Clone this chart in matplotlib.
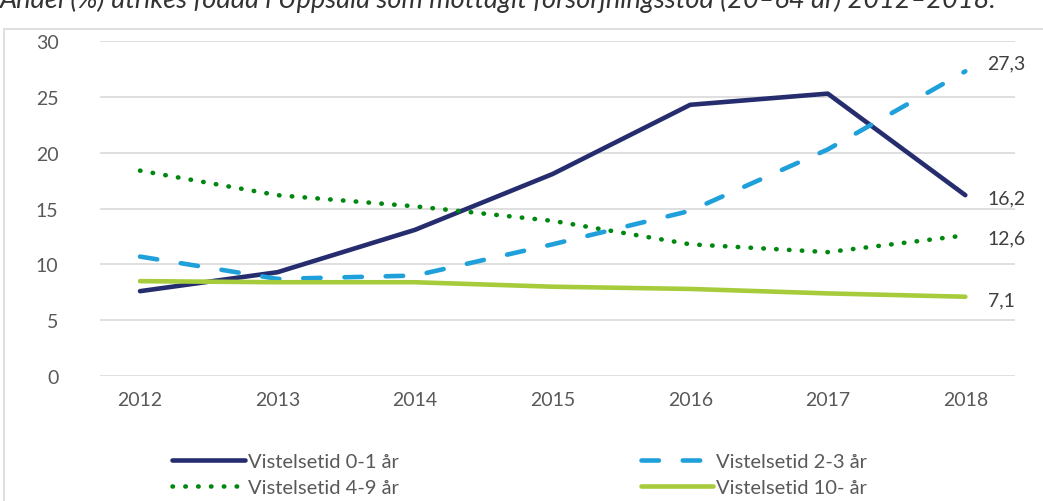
import matplotlib.pyplot as plt
from matplotlib.patches import Rectangle

years = [2012, 2013, 2014, 2015, 2016, 2017, 2018]
v_0_1 = [7.6, 9.3, 13.1, 18.1, 24.3, 25.3, 16.2]
v_2_3 = [10.7, 8.7, 9.0, 11.8, 14.8, 20.3, 27.3]
v_4_9 = [18.4, 16.2, 15.2, 13.9, 11.8, 11.1, 12.6]
v_10 = [8.5, 8.4, 8.4, 8.0, 7.8, 7.4, 7.1]
labels = ["Vistelsetid 0-1 år", "Vistelsetid 2-3 år", "Vistelsetid 4-9 år", "Vistelsetid 10- år"]
end_labels = ["16,2", "27,3", "12,6", "7,1"]
title = "Andel (%) utrikes födda i Uppsala som mottagit försörjningsstöd (20–64 år) 2012–2018."

plt.rcParams['font.family'] = ['Lato', 'DejaVu Sans']
grey = "#595959"

fig = plt.figure(figsize=(10.43, 5.02), dpi=100)
fig.patches.append(Rectangle((0.004, -0.01), 1.1, 0.95, transform=fig.transFigure,
                             fill=False, edgecolor="#d9d9d9", linewidth=1.2))
# title is cut at the top edge in the original
fig.text(0.0, 0.985, title, fontsize=19.5, style='italic', color="#333333", va='baseline')

ax = fig.add_axes([0.096, 0.249, 0.877, 0.667])

l1, = ax.plot(years, v_0_1, color="#262d6e", lw=3.3, solid_capstyle='round')
l2, = ax.plot(years, v_2_3, color="#1fa0db", lw=3.3, dashes=(3.8, 5.2), dash_capstyle='round')
l3, = ax.plot(years, v_4_9, color="#00870f", lw=3.3, linestyle=(0, (0.1, 2.7)), dash_capstyle='round')
l4, = ax.plot(years, v_10, color="#a6cc3c", lw=3.3, solid_capstyle='round')

series = [v_0_1, v_2_3, v_4_9, v_10]
dy = [-2, 6, -2, -2]
for s, txt, d in zip(series, end_labels, dy):
    ax.annotate(txt, (years[-1], s[-1]), xytext=(16, d), textcoords='offset points',
                fontsize=14, color="#404040", va='center', ha='left')

ax.set_xlim(2011.71, 2018.36)
ax.set_ylim(0, 30)
ax.set_yticks(range(0, 31, 5))
ax.set_xticks(years)
ax.grid(axis='y', color="#d9d9d9", lw=1.2)
ax.set_axisbelow(True)
for sp in ax.spines.values():
    sp.set_visible(False)
ax.tick_params(length=0, labelsize=14, labelcolor=grey, pad=11)
ax.tick_params(axis='y', pad=30)

fig.legend([l1, l3, l2, l4], [labels[0], labels[2], labels[1], labels[3]], ncol=2,
           loc='lower left', bbox_to_anchor=(0.148, -0.026), frameon=False,
           fontsize=14.5, labelcolor=grey, handlelength=3.6, handletextpad=0.15,
           columnspacing=12.0, labelspacing=0.45)

fig.savefig("out.png", dpi=100)
